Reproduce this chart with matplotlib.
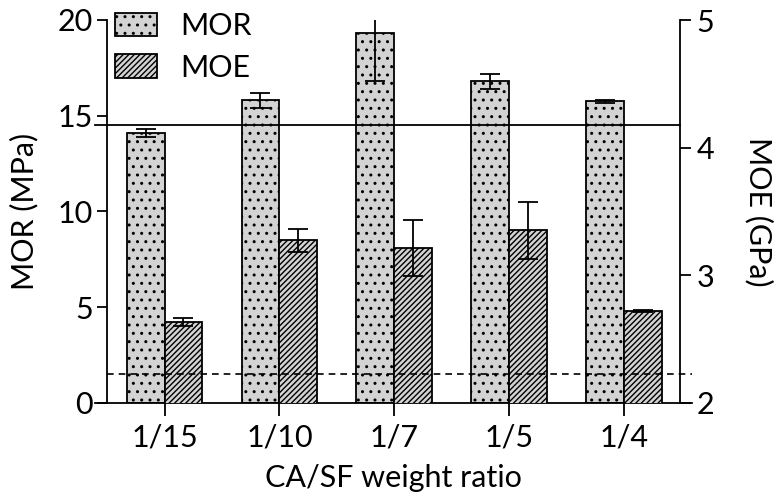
import matplotlib
matplotlib.use("Agg")
import matplotlib.pyplot as plt
import numpy as np
from matplotlib.patches import Patch

plt.rcParams['font.family'] = ['Lato', 'DejaVu Sans']
plt.rcParams['hatch.linewidth'] = 1.0

categories = ["1/15", "1/10", "1/7", "1/5", "1/4"]
mor = [14.1, 15.8, 19.3, 16.8, 15.75]
mor_err = [0.2, 0.4, 2.5, 0.4, 0.08]
moe = [2.635, 3.275, 3.21, 3.35, 2.72]
moe_err = [0.03, 0.09, 0.22, 0.22, 0.01]
mor_ref = 14.5
moe_ref = 2.225

fs = 22
fig = plt.figure(figsize=(7.78, 4.99), dpi=100)
ax = fig.add_axes([95/778, 1-402.7/499, (692-95)/778, (402.7-20)/499])
ax2 = ax.twinx()

x = np.arange(len(categories))
w = 0.33
ekw = dict(ecolor='black', elinewidth=1.3, capsize=7, capthick=1.3)
ax.bar(x - w/2, mor, w, color='#d3d3d3', edgecolor='black', hatch='..', linewidth=1.3,
       yerr=mor_err, error_kw=ekw, zorder=2)
ax2.bar(x + w/2, moe, w, color='#d3d3d3', edgecolor='black', hatch='//////', linewidth=1.3,
        yerr=moe_err, error_kw=ekw, zorder=2)

ax.set_xlim(-0.605, 4.59)
ax.set_ylim(0, 20)
ax2.set_ylim(2, 5)

ax.plot([-0.605, 4.486], [mor_ref, mor_ref], color='black', lw=1.3, zorder=3, clip_on=False)
ax2.plot([-0.503, 4.59], [moe_ref, moe_ref], color='black', lw=1.2, ls=(0, (4, 3)), zorder=3, clip_on=False)

for a in (ax, ax2):
    a.spines['top'].set_visible(False)
    a.set_facecolor('none')
ax.spines['right'].set_visible(False)
ax2.spines['left'].set_visible(False)
ax2.spines['bottom'].set_visible(False)
ax.spines['left'].set_position(('data', -0.503))
ax2.spines['right'].set_position(('data', 4.486))
for s in ['left', 'bottom']:
    ax.spines[s].set_linewidth(1.3)
ax2.spines['right'].set_linewidth(1.3)

ax.set_xticks(x)
ax.set_xticklabels(categories, fontsize=fs)
ax.set_yticks([0, 5, 10, 15, 20])
ax2.set_yticks([2, 3, 4, 5])
ax.tick_params(axis='x', length=9, width=1.3, direction='out', pad=6)
ax.tick_params(axis='y', length=7, width=1.3, direction='out', labelsize=fs, pad=3)
ax2.tick_params(axis='y', length=8, width=1.3, direction='out', labelsize=fs, pad=4)

ax.set_xlabel("CA/SF weight ratio", fontsize=fs, labelpad=9)
ax.set_ylabel("MOR (MPa)", fontsize=fs, labelpad=14)
ax2.set_ylabel("MOE (GPa)", fontsize=fs, rotation=270, labelpad=42)

handles = [Patch(facecolor='#d3d3d3', edgecolor='black', hatch='..', lw=1.3, label='MOR'),
           Patch(facecolor='#d3d3d3', edgecolor='black', hatch='//////', lw=1.3, label='MOE')]
ax2.legend(handles=handles, loc='upper left', bbox_to_anchor=((115-95)/597, (402.7-12)/382.7),
           frameon=False, borderpad=0, borderaxespad=0,
           fontsize=fs, handlelength=1.37, handleheight=0.8, handletextpad=0.75, labelspacing=0.45)

fig.savefig("out.png", dpi=100)
